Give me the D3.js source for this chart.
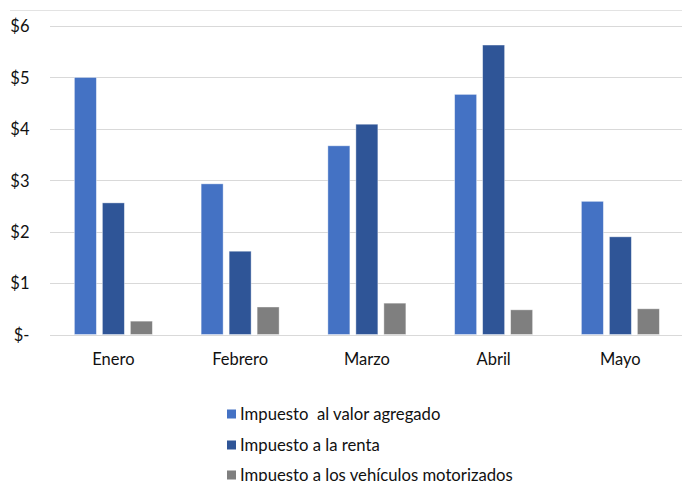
<!DOCTYPE html>
<html>
<head>
<meta charset="utf-8">
<script src="https://cdn.jsdelivr.net/npm/d3@7"></script>
<style>
  html, body { margin: 0; padding: 0; background: #fff; }
  svg { display: block; }
  text { font-family: Lato, "Open Sans", sans-serif; fill: #111; }
</style>
</head>
<body>
<svg id="chart" width="682" height="481"></svg>
<script>
const months = ["Enero", "Febrero", "Marzo", "Abril", "Mayo"];
const seriesNames = ["Impuesto  al valor agregado", "Impuesto a la renta", "Impuesto a los vehículos motorizados"];
const iva = [5.00, 2.93, 3.67, 4.67, 2.59];
const renta = [2.56, 1.62, 4.09, 5.63, 1.90];
const vehiculos = [0.26, 0.535, 0.61, 0.48, 0.50];
const yTicks = [0, 1, 2, 3, 4, 5, 6];
const yTickLabels = ["$-", "$1", "$2", "$3", "$4", "$5", "$6"];
const colors = ["#4472C4", "#2F5597", "#7F7F7F"];

const seriesValues = [iva, renta, vehiculos];
const svg = d3.select("#chart");

const plotLeft = 50, plotRight = 683.75, plotTop = 26, plotBottom = 334.5;

const x0 = d3.scaleBand().domain(months).range([plotLeft, plotRight]).paddingInner(0).paddingOuter(0);
const x1 = d3.scaleBand().domain(d3.range(seriesNames.length)).range([0, 78]).paddingInner(6 / 28).paddingOuter(0);
const y = d3.scaleLinear().domain([0, 6]).range([plotBottom, plotTop]);

// top border line
svg.append("line")
  .attr("x1", 10).attr("x2", 682)
  .attr("y1", 10.5).attr("y2", 10.5)
  .attr("stroke", "#e3e3e3").attr("stroke-width", 1);

// gridlines
svg.append("g").selectAll("line").data(yTicks).join("line")
  .attr("x1", plotLeft).attr("x2", 682)
  .attr("y1", d => Math.round(y(d)) + 0.5).attr("y2", d => Math.round(y(d)) + 0.5)
  .attr("stroke", "#d9d9d9").attr("stroke-width", 1);

// y labels
const yAxis = d3.axisLeft(y).tickValues(yTicks).tickFormat((d, i) => yTickLabels[i]).tickSize(0).tickPadding(0);
const gy = svg.append("g").attr("transform", `translate(29.5,0)`).call(yAxis);
gy.select(".domain").remove();
gy.selectAll("text").style("font-family", "Lato, 'Open Sans', sans-serif").style("font-size", "16.5px").attr("fill", "#111").attr("dy", "0.35em");

// bars
const groups = svg.append("g").selectAll("g").data(months).join("g")
  .attr("transform", d => `translate(${x0(d) + x0.bandwidth() / 2 - 39},0)`);

groups.selectAll("rect").data((m, mi) => seriesValues.map((vals, si) => ({ si, v: vals[mi] }))).join("rect")
  .attr("x", d => x1(d.si))
  .attr("width", x1.bandwidth())
  .attr("y", d => y(d.v))
  .attr("height", d => y(0) - y(d.v))
  .attr("fill", d => colors[d.si])
  .attr("stroke", "#ffffff").attr("stroke-opacity", 0.5).attr("stroke-width", 0.8);

// x labels
const xAxis = d3.axisBottom(x0).tickSize(0).tickPadding(0);
const gx = svg.append("g").attr("transform", `translate(0,364.5)`).call(xAxis);
gx.select(".domain").remove();
gx.selectAll("text").attr("dy", 0).style("font-family", "Lato, 'Open Sans', sans-serif").style("font-size", "16.5px").attr("fill", "#111");

// legend
const legendRows = [414, 445, 475];
const legend = svg.append("g").selectAll("g").data(seriesNames).join("g")
  .attr("transform", (d, i) => `translate(227,${legendRows[i]})`);
legend.append("rect").attr("x", 0).attr("y", -4.5).attr("width", 9).attr("height", 9)
  .attr("fill", (d, i) => colors[i]);
legend.append("text").attr("x", 13).attr("y", 0).attr("dy", "0.35em")
  .style("font-size", "16.7px").style("white-space", "pre").text(d => d);
</script>
</body>
</html>
